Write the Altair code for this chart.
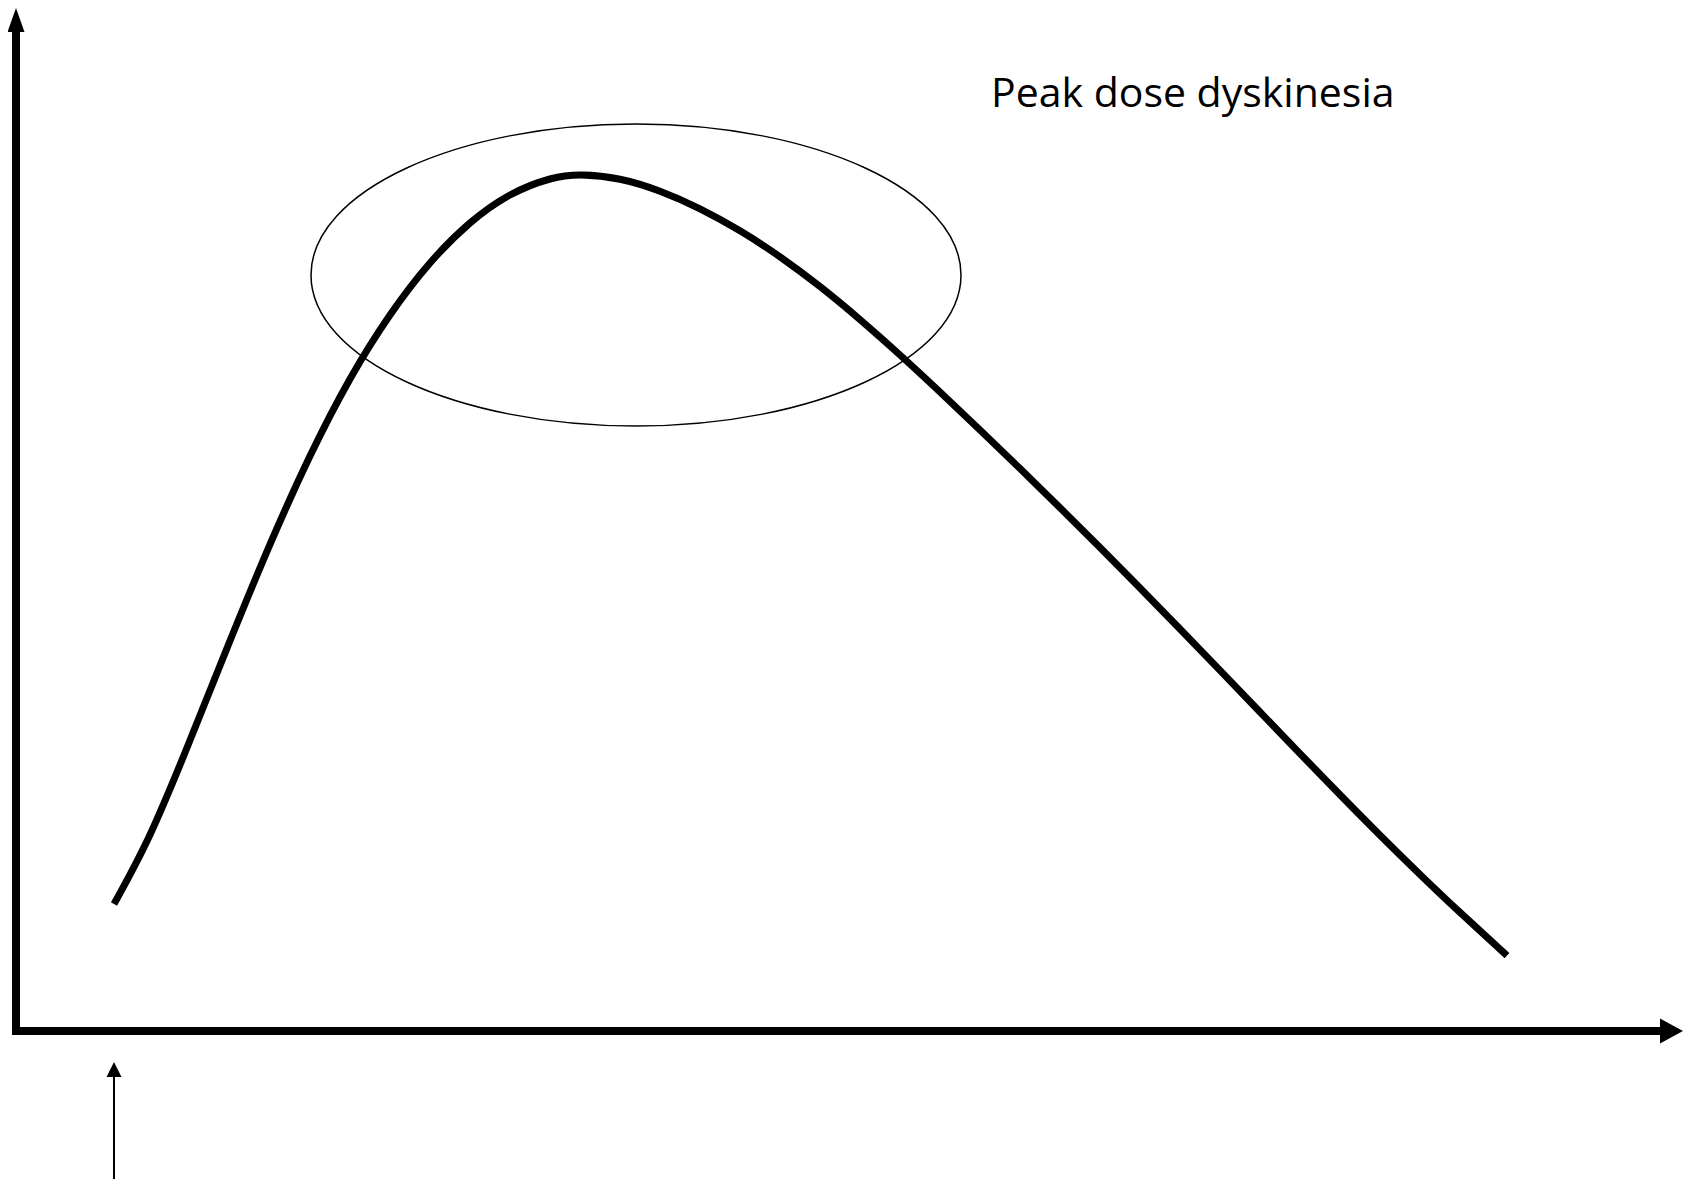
import altair as alt
import pandas as pd

# ---- data (units relative to the axes' origin; x = time, y = plasma level) ----
curve_t = [98, 134, 174, 214, 254, 294, 334, 374, 414, 454, 494, 534, 566,
           604, 644, 684, 724, 764, 804, 844, 884, 924, 964, 1004, 1044, 1084,
           1124, 1164, 1204, 1244, 1284, 1324, 1364, 1404, 1444, 1491]
curve_level = [127, 196.3, 290.7, 390.2, 486.6, 574.9, 652.0, 716.0, 768, 808, 836, 852, 856,
               851.8, 839.8, 822.2, 800.2, 774.2, 744.4, 711.4, 676, 639, 601, 562.4, 523.2, 483.4,
               443, 402, 360.6, 319, 277.4, 236.2, 195.8, 156.6, 118.6, 75.4]

label_text = ["Peak dose dyskinesia"]
label_t = [975]
label_level = [924]

ellipse_t = [620]
ellipse_level = [756]
ellipse_width = [650]
ellipse_ratio = 0.4646

# axis lines and dose marker
seg_name = ["x-axis", "y-axis", "dose"]
seg_x = [-4, 0, 98]
seg_x2 = [1646, 0, 98]
seg_y = [0, -4, -148]
seg_y2 = [0, 1001, -46]
seg_w = [8, 8, 2]

# arrowheads
head_name = ["y-axis", "x-axis", "dose"]
head_x = [0, 1655.5, 98]
head_y = [1011, 0, -38.5]
head_size = [289, 529, 225]
head_path = ["M0,-1.41L1,1.41L-1,1.41Z", "M-1,-1.087L1,0L-1,1.087Z", "M0,-1L1,1L-1,1Z"]

X_DOMAIN = [-8, 1667]
Y_DOMAIN = [-148, 1023]

xs = alt.Scale(domain=X_DOMAIN, nice=False, zero=False)
ys = alt.Scale(domain=Y_DOMAIN, nice=False, zero=False)

curve_df = pd.DataFrame({"t": curve_t, "level": curve_level})
label_df = pd.DataFrame({"t": label_t, "level": label_level, "text": label_text})
k = 0.5523
r = ellipse_ratio
ell_path = (f"M-1,0C-1,{-k*r:.4f},{-k:.4f},{-r:.4f},0,{-r:.4f}"
            f"C{k:.4f},{-r:.4f},1,{-k*r:.4f},1,0"
            f"C1,{k*r:.4f},{k:.4f},{r:.4f},0,{r:.4f}"
            f"C{-k:.4f},{r:.4f},-1,{k*r:.4f},-1,0Z")
ell_df = pd.DataFrame({"t": ellipse_t, "level": ellipse_level,
                       "size": [w * w for w in ellipse_width], "path": [ell_path]})
seg_df = pd.DataFrame({"name": seg_name, "x": seg_x, "x2": seg_x2,
                       "y": seg_y, "y2": seg_y2, "w": seg_w})
head_df = pd.DataFrame({"name": head_name, "x": head_x, "y": head_y,
                        "size": head_size, "path": head_path})

curve = alt.Chart(curve_df).mark_line(
    color="black", strokeWidth=7, interpolate="natural", strokeCap="butt"
).encode(
    x=alt.X("t:Q", scale=xs, axis=None),
    y=alt.Y("level:Q", scale=ys, axis=None),
)

ellipse = alt.Chart(ell_df).mark_point(
    filled=False, color="black", strokeWidth=1.5, opacity=1
).encode(
    x=alt.X("t:Q", scale=xs, axis=None),
    y=alt.Y("level:Q", scale=ys, axis=None),
    shape=alt.Shape("path:N", scale=None),
    size=alt.Size("size:Q", scale=None),
)

segs = alt.Chart(seg_df).mark_rule(color="black", strokeCap="butt").encode(
    x=alt.X("x:Q", scale=xs, axis=None),
    x2="x2:Q",
    y=alt.Y("y:Q", scale=ys, axis=None),
    y2="y2:Q",
    strokeWidth=alt.StrokeWidth("w:Q", scale=None),
)

heads = alt.Chart(head_df).mark_point(
    filled=True, color="black", opacity=1, strokeWidth=0
).encode(
    x=alt.X("x:Q", scale=xs, axis=None),
    y=alt.Y("y:Q", scale=ys, axis=None),
    shape=alt.Shape("path:N", scale=None),
    size=alt.Size("size:Q", scale=None),
)

label = alt.Chart(label_df).mark_text(
    align="left", baseline="alphabetic", font="Open Sans", fontSize=41, color="black"
).encode(
    x=alt.X("t:Q", scale=xs, axis=None),
    y=alt.Y("level:Q", scale=ys, axis=None),
    text="text:N",
)

chart = alt.layer(segs, heads, ellipse, curve, label).properties(
    width=1675, height=1171, padding=0,
    autosize=alt.AutoSizeParams(type="none"),
    background="white",
).configure_view(stroke=None)

chart.save("out.html", embed_options={"renderer": "svg", "actions": False})
